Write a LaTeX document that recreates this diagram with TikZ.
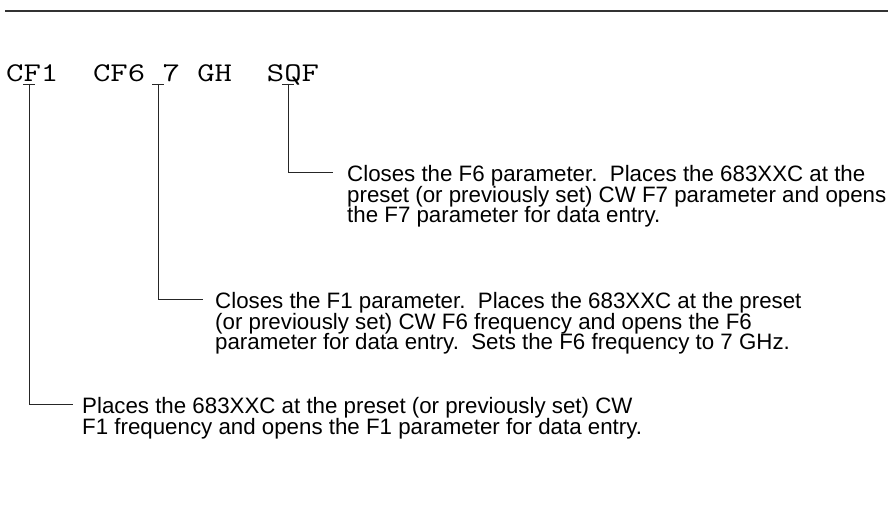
\documentclass[tikz,border=0pt]{standalone}
\usepackage{fontspec}
\setmainfont{Liberation Sans}
\usetikzlibrary{calc}
\begin{document}
\begin{tikzpicture}[x=1pt,y=-1pt,
  conn/.style={draw=black!85, line width=0.9pt},
  rule/.style={draw=black!80, line width=2pt},
  desc/.style={anchor=north west, inner sep=0pt, align=left, font=\fontsize{22.3}{20.8}\selectfont},
  code/.style={anchor=base west, inner sep=0pt, font=\ttfamily\fontsize{27}{27}\selectfont}]
\useasboundingbox (0,0) rectangle (892,508);
\coordinate (rl) at (5,11);
\coordinate (rr) at (888,11);
\draw[rule] (rl) -- (rr);
\node[code] (cmd) at (6,82) {\scalebox{1.25}[1]{CF1\ \ CF6 7 GH\ \ SQF}};
% description texts
\node[desc] (d3) at (347,165) {Closes the F6 parameter.\ \ Places the 683XXC at the\\preset (or previously set) CW F7 parameter and opens\\the F7 parameter for data entry.};
\node[desc] (d2) at (215,292) {Closes the F1 parameter.\ \ Places the 683XXC at the preset\\(or previously set) CW F6 frequency and opens the F6\\parameter for data entry.\ \ Sets the F6 frequency to 7 GHz.};
\node[desc] (d1) at (82,397) {Places the 683XXC at the preset (or previously set) CW\\F1 frequency and opens the F1 parameter for data entry.};
% tick marks under the command
\coordinate (k1) at (29,84);
\coordinate (k2) at (158,84);
\coordinate (k3) at (288,84);
\foreach \k in {k1,k2,k3}{
  \draw[conn] ([xshift=-6pt]\k) -- ([xshift=6pt]\k);
}
\draw[conn] (k1) |- ([xshift=-9pt,yshift=-7pt]d1.north west);
\draw[conn] (k2) |- ([xshift=-12pt,yshift=-7pt]d2.north west);
\draw[conn] (k3) |- ([xshift=-14pt,yshift=-7pt]d3.north west);
\end{tikzpicture}
\end{document}
